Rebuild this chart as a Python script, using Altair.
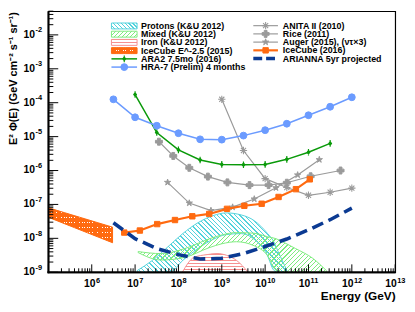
import altair as alt
import numpy as np
import pandas as pd

W, H = 352, 265
X_DOM = [1e5, 1e13]
Y_DOM = [1e-9, 5e-2]
FONT = "Liberation Sans"

# ---------------- data: log10(E/GeV), log10(E^2 Phi)
hra_x = [6.5, 7.0, 7.5, 8.0, 8.5, 9.0, 9.5, 10.0, 10.5, 11.0, 11.5, 12.0]
hra_y = [-3.90, -4.43, -4.68, -4.90, -5.08, -5.09, -4.97, -4.81, -4.62, -4.37, -4.12, -3.84]
ara_x = [7.0, 7.5, 8.0, 8.5, 9.0, 9.5, 10.0, 10.5, 11.0, 11.5]
ara_y = [-3.76, -4.88, -5.39, -5.69, -5.82, -5.83, -5.82, -5.67, -5.46, -5.20]
rice_x = [7.55, 7.88, 8.25, 8.68, 9.13, 9.64, 10.08, 10.5, 11.05, 11.74]
rice_y = [-5.15, -5.57, -5.92, -6.18, -6.35, -6.43, -6.43, -6.36, -6.17, -6.00]
auger_x = [7.75, 8.25, 8.75, 9.25, 9.75, 10.25, 10.75, 11.25]
auger_y = [-6.35, -6.96, -7.18, -7.08, -6.84, -6.51, -6.13, -5.68]
anita_x = [9.0, 9.5, 10.0, 10.5, 11.0, 11.5, 12.0]
anita_y = [-3.90, -5.41, -6.24, -6.50, -6.73, -6.64, -6.52]
ic16_x = [6.75, 7.11, 7.51, 7.92, 8.32, 8.71, 9.12, 9.52, 9.92, 10.31, 10.71, 11.03]
ic16_y = [-7.83, -7.77, -7.58, -7.46, -7.35, -7.28, -7.13, -7.04, -6.98, -6.78, -6.55, -6.26]
ari_x = [6.5, 7.0, 7.5, 8.0, 8.5, 9.0, 9.5, 10.0, 10.5, 11.0, 11.5, 12.0]
ari_y = [-7.54, -8.01, -8.30, -8.48, -8.61, -8.59, -8.45, -8.24, -8.02, -7.75, -7.45, -7.11]

# bands (upper / lower edges)
ic15_x = [5.0, 6.48]
ic15_hi = [-7.10, -7.67]
ic15_lo = [-7.38, -8.13]
prot_x = [7.05, 7.4, 7.8, 8.1, 8.45, 8.8, 9.1, 9.45, 9.75, 10.05, 10.2, 10.3, 10.5]
prot_hi = [-8.95, -8.65, -8.20, -7.86, -7.54, -7.33, -7.25, -7.31, -7.48, -7.85, -8.10, -8.39, -8.94]
prot_lo = [-9.0, -9.0, -9.0, -8.65, -8.30, -8.03, -7.89, -7.86, -8.03, -8.50, -8.94, -9.0, -9.0]
mix_x = [7.07, 7.6, 8.15, 8.7, 9.0, 9.34, 9.75, 10.05, 10.25, 10.4, 10.7, 11.1, 11.42]
mix_hi = [-8.39, -8.45, -8.30, -8.02, -7.90, -7.83, -7.85, -7.95, -8.01, -8.10, -8.30, -8.59, -8.96]
mix_lo = [-8.42, -8.64, -8.56, -8.28, -8.16, -8.10, -8.22, -8.50, -8.94, -9.0, -9.0, -9.0, -9.0]
iron_x = [8.09, 8.36, 8.66, 8.89, 9.11, 9.34, 9.61]
iron_hi = [-9.0, -8.56, -8.48, -8.45, -8.50, -8.65, -9.0]
iron_lo = [-9.0, -9.0, -9.0, -9.0, -9.0, -9.0, -9.0]

leg1 = ["Protons (K&U 2012)", "Mixed (K&U 2012)", "Iron (K&U 2012)",
        "IceCube E^-2.5 (2015)", "ARA2 7.5mo (2016)", "HRA-7 (Prelim) 4 months"]
leg2 = ["ANITA II (2010)", "Rice (2011)", "Auger (2015), (ντ×3)",
        "IceCube (2016)", "ARIANNA 5yr projected"]

x_exp1 = [6, 7, 8, 9]
x_exp2 = [10, 11, 12, 13]
y_exp = list(range(-9, -1))

# ---------------- style
C_HRA = "#6b9bff"
C_ARA = "#0a9a0a"
C_GREY = "#9a9a9a"
C_IC = "#ff6a10"
C_ARI = "#0b3a92"
C_PROT = "#52d2dc"
C_MIX = "#80ec80"
C_IRON = "#f69090"

STAR = ("M0,-1L0.223,-0.307L0.951,-0.309L0.361,0.117L0.588,0.809L0,0.38"
        "L-0.588,0.809L-0.361,0.117L-0.951,-0.309L-0.223,-0.307Z")
ASTER = "M-1,0L1,0M0,-1L0,1M-0.7,-0.7L0.7,0.7M-0.7,0.7L0.7,-0.7"
ARAM = "M0,-1L0,1M0,-0.55L0.4,0L0,0.55L-0.4,0Z"

xs = alt.Scale(type="log", domain=X_DOM, nice=False)
ys = alt.Scale(type="log", domain=Y_DOM, nice=False)
LY0, LY1 = np.log10(Y_DOM[0]), np.log10(Y_DOM[1])


def px_x(l):
    return (l - 5.0) / 8.0 * W


def px_y(l):
    return (LY1 - l) / (LY1 - LY0) * H


def hatch(color, d, period, w, h, frac=0.4):
    dx, dy = d
    sx, sy = dx / w, dy / h
    gx, gy = -sy, sx
    nrm = (gx * gx + gy * gy) ** 0.5
    gx, gy = gx / nrm, gy / nrm
    ts = [cx * gx + cy * gy for cx, cy in [(0, 0), (1, 0), (0, 1), (1, 1)]]
    t0, t1 = min(ts), max(ts)
    x1, y1, x2, y2 = t0 * gx, t0 * gy, t1 * gx, t1 * gy
    Gx, Gy = (x2 - x1) * w, (y2 - y1) * h
    dl = (dx * dx + dy * dy) ** 0.5
    across = abs(Gx * dy / dl - Gy * dx / dl)
    n = max(1, int(round(across / period)))
    clear = "rgba(255,255,255,0)"
    stops = []
    for i in range(n):
        a, b, c = i / n, (i + frac) / n, (i + 1) / n
        stops += [alt.GradientStop(offset=round(a, 5), color=color),
                  alt.GradientStop(offset=round(b, 5), color=color),
                  alt.GradientStop(offset=round(b, 5), color=clear),
                  alt.GradientStop(offset=round(c, 5), color=clear)]
    return alt.LinearGradient(gradient="linear", stops=stops,
                              x1=round(x1, 5), y1=round(y1, 5), x2=round(x2, 5), y2=round(y2, 5))


def frame(x, y):
    return pd.DataFrame({"E": [10.0 ** v for v in x], "F": [10.0 ** v for v in y]})


def enc():
    return dict(x=alt.X("E:Q", scale=xs, axis=None), y=alt.Y("F:Q", scale=ys, axis=None))


def band(x, hi, lo, color, fills):
    df = pd.DataFrame({"E": [10.0 ** v for v in x],
                       "F": [10.0 ** v for v in hi],
                       "F2": [10.0 ** v for v in lo]})
    w = px_x(max(x)) - px_x(min(x))
    h = px_y(min(lo)) - px_y(max(hi))
    out = []
    for k, (d, period, frac) in enumerate(fills):
        out.append(alt.Chart(df).mark_area(
            fill=hatch(color, d, period, w, h, frac),
            stroke=color if k == 0 else None, strokeWidth=1, interpolate="monotone", clip=True
        ).encode(x=alt.X("E:Q", scale=xs, axis=None), y=alt.Y("F:Q", scale=ys, axis=None),
                 y2="F2:Q"))
    return out


def series(x, y, color, width, shape, size, filled=True, swidth=1.0):
    df = frame(x, y)
    ln = alt.Chart(df).mark_line(color=color, strokeWidth=width, clip=True).encode(**enc())
    pt = alt.Chart(df).mark_point(shape=shape, size=size, filled=filled,
                                  fill=color if filled else None, stroke=color,
                                  strokeWidth=swidth, opacity=1, clip=True).encode(**enc())
    return [ln, pt]


layers = []
# bands
layers += band(prot_x, prot_hi, prot_lo, C_PROT, [((1, 1), 3.2, 0.28)])
layers += band(mix_x, mix_hi, mix_lo, C_MIX, [((1, -1), 3.2, 0.28)])
layers += band(iron_x, iron_hi, iron_lo, C_IRON, [((1, 0), 3.0, 0.35)])
layers += band(ic15_x, ic15_hi, ic15_lo, C_IC, [((0, 1), 2.6, 0.7), ((1, 0), 2.6, 0.7)])

# series
layers += series(anita_x, anita_y, C_GREY, 1.2, ASTER, 55, filled=False, swidth=1.1)
layers += series(rice_x, rice_y, C_GREY, 1.2, "cross", 50)
layers += series(auger_x, auger_y, C_GREY, 1.2, STAR, 45)
layers += series(ara_x, ara_y, C_ARA, 1.5, ARAM, 45, swidth=1.2)
layers += series(hra_x, hra_y, C_HRA, 1.5, "circle", 48)
layers += series(ic16_x, ic16_y, C_IC, 2.2, "square", 30)
layers.append(alt.Chart(frame(ari_x, ari_y)).mark_line(
    color=C_ARI, strokeWidth=3.6, strokeDash=[12, 6], clip=True).encode(**enc()))

one = pd.DataFrame({"k": [0]})

# ---------------- legend
TXT = dict(font=FONT, fontSize=9, fontWeight="bold", align="left", baseline="middle", color="black")
L1_X0, L1_X1, L1_T = 64, 90, 94
L2_X0, L2_X1, L2_T = 208, 233, 238
row1 = [15 + 8.35 * i for i in range(len(leg1))]
row2 = [14.7 + 8.35 * i for i in range(len(leg2))]
box_fill = [
    (C_PROT, [((1, 1), 2.8, 0.3)]),
    (C_MIX, [((1, -1), 2.8, 0.3)]),
    (C_IRON, [((1, 0), 3.0, 0.35)]),
    (C_IC, [((0, 1), 2.4, 0.7), ((1, 0), 2.4, 0.7)]),
]
for i, (col, fills) in enumerate(box_fill):
    for k, (d, p, f) in enumerate(fills):
        layers.append(alt.Chart(one).mark_rect(
            fill=hatch(col, d, p, L1_X1 - L1_X0, 6, f),
            stroke=col if k == 0 else None, strokeWidth=1).encode(
            x=alt.value(L1_X0), x2=alt.value(L1_X1),
            y=alt.value(row1[i] - 3), y2=alt.value(row1[i] + 3)))


def leg_line(x0, x1, y, color, width, dash=None):
    kw = dict(color=color, strokeWidth=width)
    if dash:
        kw["strokeDash"] = dash
    return alt.Chart(one).mark_rule(**kw).encode(
        x=alt.value(x0), x2=alt.value(x1), y=alt.value(y))


def leg_pt(x, y, color, shape, size, filled=True, swidth=1.0):
    return alt.Chart(one).mark_point(shape=shape, size=size, filled=filled,
                                     fill=color if filled else None, stroke=color,
                                     strokeWidth=swidth, opacity=1).encode(
        x=alt.value(x), y=alt.value(y))


xm1 = (L1_X0 + L1_X1) / 2
xm2 = (L2_X0 + L2_X1) / 2
layers += [leg_line(L1_X0, L1_X1, row1[4], C_ARA, 1.5), leg_pt(xm1, row1[4], C_ARA, ARAM, 45, swidth=1.2),
           leg_line(L1_X0, L1_X1, row1[5], C_HRA, 1.5), leg_pt(xm1, row1[5], C_HRA, "circle", 48)]
layers += [leg_line(L2_X0, L2_X1, row2[0], C_GREY, 1.2), leg_pt(xm2, row2[0], C_GREY, ASTER, 55, False, 1.1),
           leg_line(L2_X0, L2_X1, row2[1], C_GREY, 1.2), leg_pt(xm2, row2[1], C_GREY, "cross", 50),
           leg_line(L2_X0, L2_X1, row2[2], C_GREY, 1.2), leg_pt(xm2, row2[2], C_GREY, STAR, 45),
           leg_line(L2_X0, L2_X1, row2[3], C_IC, 2.2), leg_pt(xm2, row2[3], C_IC, "square", 30),
           leg_line(L2_X0, L2_X1, row2[4], C_ARI, 3.6, [9, 4])]
for i, t in enumerate(leg1):
    layers.append(alt.Chart(one).mark_text(**TXT).encode(
        x=alt.value(L1_T), y=alt.value(row1[i]), text=alt.value(t)))
for i, t in enumerate(leg2):
    layers.append(alt.Chart(one).mark_text(**TXT).encode(
        x=alt.value(L2_T), y=alt.value(row2[i]), text=alt.value(t)))

# ---------------- axes drawn by hand (ROOT style: inner ticks)
ymaj = pd.DataFrame({"v": [10.0 ** e for e in range(-9, -1)]})
ymin = pd.DataFrame({"v": [m * 10.0 ** e for e in range(-9, -1) for m in range(2, 10)
                           if m * 10.0 ** e <= Y_DOM[1]]})
xmaj = pd.DataFrame({"v": [10.0 ** e for e in range(5, 14)]})
xmin = pd.DataFrame({"v": [m * 10.0 ** e for e in range(5, 13) for m in range(2, 10)]})
YV = alt.Y("v:Q", scale=ys, axis=None)
XV = alt.X("v:Q", scale=xs, axis=None)
layers += [
    alt.Chart(ymaj).mark_rule(color="black", strokeWidth=1).encode(y=YV, x=alt.value(0), x2=alt.value(10)),
    alt.Chart(ymin).mark_rule(color="black", strokeWidth=1).encode(y=YV, x=alt.value(0), x2=alt.value(5)),
    alt.Chart(xmaj).mark_rule(color="black", strokeWidth=1).encode(x=XV, y=alt.value(H), y2=alt.value(H - 8)),
    alt.Chart(xmin).mark_rule(color="black", strokeWidth=1).encode(x=XV, y=alt.value(H), y2=alt.value(H - 4)),
    alt.Chart(one).mark_rule(color="black", strokeWidth=2).encode(x=alt.value(0), y=alt.value(0), y2=alt.value(H + 1)),
    alt.Chart(one).mark_rule(color="black", strokeWidth=2).encode(x=alt.value(-1), x2=alt.value(W), y=alt.value(H)),
]

xl1 = pd.DataFrame({"v": [10.0 ** e for e in x_exp1], "e": [str(e) for e in x_exp1]})
xl2 = pd.DataFrame({"v": [10.0 ** e for e in x_exp2], "e": [str(e) for e in x_exp2]})
yl = pd.DataFrame({"v": [10.0 ** e for e in y_exp], "e": [str(e) for e in y_exp]})
LAB = dict(font=FONT, fontWeight="bold", color="black")
for df, dx in [(xl1, 3.8), (xl2, 1.7)]:
    layers += [
        alt.Chart(df).mark_text(align="right", baseline="alphabetic", fontSize=10.5, dx=dx, **LAB).encode(
            x=XV, y=alt.value(H + 15), text=alt.value("10")),
        alt.Chart(df).mark_text(align="left", baseline="alphabetic", fontSize=7.5, dx=dx + 0.4, **LAB).encode(
            x=XV, y=alt.value(H + 10.5), text="e:N"),
    ]
layers += [
    alt.Chart(yl).mark_text(align="right", baseline="middle", fontSize=10.5, **LAB).encode(
        y=YV, x=alt.value(-13.5), text=alt.value("10")),
    alt.Chart(yl).mark_text(align="left", baseline="middle", fontSize=7.5, dy=-4.5, **LAB).encode(
        y=YV, x=alt.value(-13), text="e:N"),
    alt.Chart(one).mark_text(align="right", baseline="alphabetic", fontSize=12, **LAB).encode(
        x=alt.value(W + 0.5), y=alt.value(H + 28.5), text=alt.value("Energy (GeV)")),
    alt.Chart(one).mark_text(align="right", baseline="middle", fontSize=11, angle=270, **LAB).encode(
        x=alt.value(-35), y=alt.value(1), text=alt.value("E² Φ(E) (GeV cm⁻² s⁻¹ sr⁻¹)")),
]

chart = alt.layer(*layers).properties(
    width=W, height=H,
    autosize=alt.AutoSizeParams(type="none"),
    padding={"left": 41, "top": 1, "right": 12, "bottom": 30},
).configure_view(stroke="black", strokeWidth=1.2)

chart.save("out.html", embed_options={"renderer": "svg", "actions": False})
